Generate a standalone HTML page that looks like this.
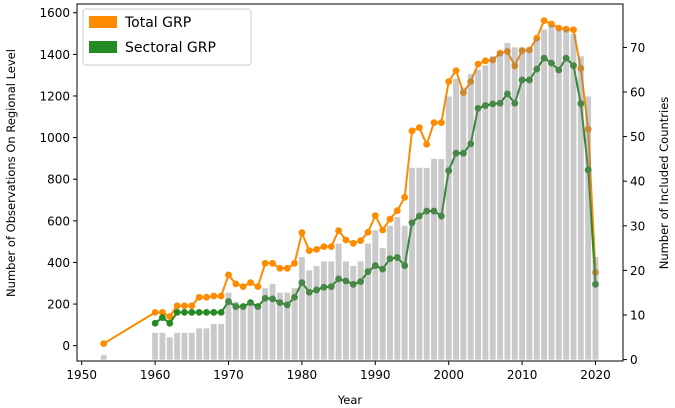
<!DOCTYPE html>
<html><head><meta charset="utf-8"><style>
body{margin:0;background:#fff;}
svg{display:block;font-family:"DejaVu Sans","Liberation Sans",sans-serif;}
</style></head><body>
<svg id="chart" width="675" height="408" viewBox="0 0 675 408" xmlns="http://www.w3.org/2000/svg"></svg>
<script>
const years = [1953,1960,1961,1962,1963,1964,1965,1966,1967,1968,1969,1970,1971,1972,1973,1974,1975,1976,1977,1978,1979,1980,1981,1982,1983,1984,1985,1986,1987,1988,1989,1990,1991,1992,1993,1994,1995,1996,1997,1998,1999,2000,2001,2002,2003,2004,2005,2006,2007,2008,2009,2010,2011,2012,2013,2014,2015,2016,2017,2018,2019,2020];
const totalGRP = [10,160,160,140,192,192,192,233,233,239,239,340,297,284,303,284,396,396,372,372,396,543,457,463,476,476,553,508,492,505,545,625,556,608,649,713,1032,1048,968,1072,1072,1269,1322,1216,1269,1353,1369,1373,1406,1414,1345,1418,1421,1478,1562,1546,1526,1521,1518,1333,1040,352];
const sectoralGRP = [null,108,135,108,160,160,160,160,160,160,160,212,188,188,207,188,228,225,207,196,233,303,257,268,281,284,321,311,295,308,356,385,368,418,424,385,591,623,647,647,623,841,925,925,970,1141,1154,1162,1165,1210,1165,1277,1277,1329,1382,1358,1325,1382,1346,1164,845,295];
const countries = [1,6,6,5,6,6,6,7,7,8,8,15,13,12,13,12,16,17,15,15,16,23,20,21,22,22,26,22,21,22,26,29,25,30,32,30,43,43,43,45,45,59,63,61,64,65,66,68,69,71,70,70,70,72,74,75,74,74,73,68,59,23];
const xTicks = [1950,1960,1970,1980,1990,2000,2010,2020];
const yLeftTicks = [0,200,400,600,800,1000,1200,1400,1600];
const yRightTicks = [0,10,20,30,40,50,60,70];

const L=77,R=623,T=4,B=361;
const x = y => 81.7 + (y-1950)*7.34;
const yl = v => 345.7 - v*0.2081;
const yr = v => 359.6 - v*4.46;
const svg = document.getElementById('chart');
const NS='http://www.w3.org/2000/svg';
function mk(tag, attrs, parent){const e=document.createElementNS(NS,tag);for(const k in attrs)e.setAttribute(k,attrs[k]);(parent||svg).appendChild(e);return e;}

function series(vals, color, name){
  const g = mk('g',{});
  
  
  let pts=[];
  years.forEach((yy,i)=>{ if(vals[i]!=null) pts.push(x(yy).toFixed(1)+','+yl(vals[i]).toFixed(1)); });
  const pl = mk('polyline',{points:pts.join(' '),fill:'none',stroke:color,'stroke-width':2,'stroke-linejoin':'round'},g);
  
  
  years.forEach((yy,i)=>{ if(vals[i]==null) return;
    const c = mk('circle',{cx:x(yy),cy:yl(vals[i]),r:3.4,fill:color},g);
    
    
  });
}
series(totalGRP,'#ff8c00','total-grp-series');
series(sectoralGRP,'#228b22','sectoral-grp-series');

years.forEach((yy,i)=>{
  const top=yr(countries[i]);
  const b = mk('rect',{x:x(yy)-2.94,y:top,width:5.88,height:yr(0)-top,fill:'#808080','fill-opacity':0.42});
  
  
});

const fr = mk('rect',{x:L,y:T,width:R-L,height:B-T,fill:'none',stroke:'#000','stroke-width':1});



xTicks.forEach(t=>{
  mk('line',{x1:x(t),x2:x(t),y1:B,y2:B+4,stroke:'#000'});
  const tx = mk('text',{x:x(t),y:B+18,'text-anchor':'middle','font-size':12,fill:'#000'});
  tx.textContent=t;
  
  
});
yLeftTicks.forEach(t=>{
  mk('line',{x1:L-4,x2:L,y1:yl(t),y2:yl(t),stroke:'#000'});
  const tx = mk('text',{x:L-7,y:yl(t)+4.5,'text-anchor':'end','font-size':12,fill:'#000'});
  tx.textContent=t;
  
  
});
yRightTicks.forEach(t=>{
  mk('line',{x1:R,x2:R+4,y1:yr(t),y2:yr(t),stroke:'#000'});
  const tx = mk('text',{x:R+7,y:yr(t)+4.5,'text-anchor':'start','font-size':12,fill:'#000'});
  tx.textContent=t;
  
  
});
</script>
<svg style="position:absolute;left:0;top:0" width="675" height="408" xmlns="http://www.w3.org/2000/svg" font-family="DejaVu Sans, Liberation Sans, sans-serif">
  <text x="350" y="404" text-anchor="middle" font-size="11.5">Year</text>
  <text transform="translate(15,173) rotate(-90)" text-anchor="middle" font-size="11.5">Number of Observations On Regional Level</text>
  <text transform="translate(668,183) rotate(-90)" text-anchor="middle" font-size="11.5">Number of Included Countries</text>
  <g>
    <rect x="83" y="9" width="168" height="56" rx="3" fill="#fff" fill-opacity="0.8" stroke="#ccc"/>
    <g>
      <rect x="89" y="16" width="28" height="12" fill="#ff8c00"/>
      <text x="125" y="27" font-size="14">Total GRP</text>
    </g>
    <g>
      <rect x="89" y="41" width="28" height="12" fill="#228b22"/>
      <text x="125" y="52" font-size="14">Sectoral GRP</text>
    </g>
  </g>
</svg>
</body></html>
